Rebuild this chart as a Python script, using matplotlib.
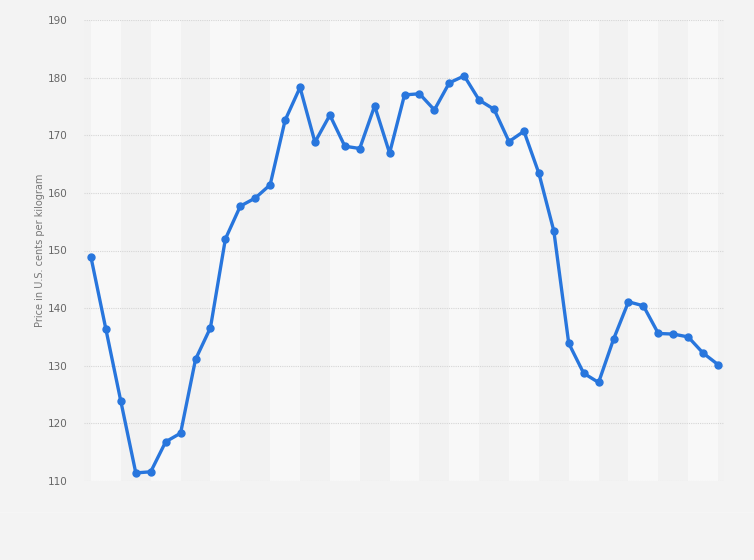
import matplotlib
matplotlib.use("Agg")
import matplotlib.pyplot as plt
from matplotlib.lines import Line2D

# Data
prices = [148.8, 136.3, 123.8, 111.4, 111.6, 116.8, 118.3, 131.1, 136.6, 152.0,
          157.7, 159.1, 161.4, 172.6, 178.3, 168.8, 173.5, 168.1, 167.7, 175.1,
          166.9, 177.0, 177.2, 174.4, 179.1, 180.3, 176.1, 174.5, 168.9, 170.7,
          163.4, 153.4, 133.9, 128.7, 127.1, 134.6, 141.1, 140.4, 135.6, 135.5,
          135.0, 132.2, 130.2]
y_ticks = [110, 120, 130, 140, 150, 160, 170, 180, 190]
y_label = "Price in U.S. cents per kilogram"

W, H = 754, 560
fig = plt.figure(figsize=(W / 100, H / 100), dpi=100)
fig.patch.set_facecolor("#f3f3f3")

left, right, top, bottom = 84, 724, 20, 481
ax = fig.add_axes([left / W, 1 - bottom / H, (right - left) / W, (bottom - top) / H])
ax.set_facecolor("#f2f2f2")

n = len(prices)
x = list(range(n))
ax.set_xlim(-0.47, n - 1 + 0.4)
ax.set_ylim(110, 190)

# alternating background bands
for k in range(0, n - 1, 2):
    if (k // 2) % 2 == 0:
        ax.axvspan(k, k + 2, color="#f8f8f8", zorder=0, lw=0)

ax.set_yticks(y_ticks)
ax.set_xticks([])
ax.grid(axis="y", color="#d6d6d6", linestyle=(0, (1, 1)), linewidth=0.8, zorder=1)
ax.tick_params(axis="y", length=0, pad=12, labelsize=7.5, labelcolor="#666666")
for s in ax.spines.values():
    s.set_visible(False)

ax.plot(x, prices, color="#2876dd", linewidth=2.4, marker="o", markersize=5,
        zorder=3, solid_joinstyle="round", clip_on=False)

fig.text(40 / W, 1 - 250.5 / H, y_label, rotation=90, ha="center", va="center",
         fontsize=7, color="#777777")

fig.add_artist(Line2D([0, 1], [1 - 512 / H, 1 - 512 / H], color="#f5f5f5",
                      linewidth=0.8, transform=fig.transFigure))

fig.savefig("out.png", dpi=100, facecolor=fig.get_facecolor())
